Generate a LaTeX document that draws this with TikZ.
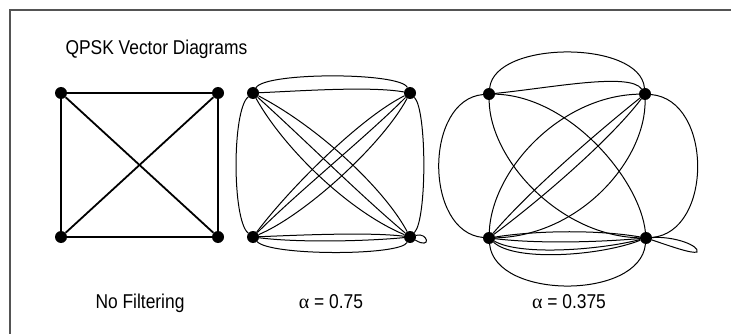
\documentclass[tikz,border=0pt]{standalone}
\usepackage{fontspec}
\setmainfont{Liberation Sans}[FakeStretch=0.87]
\newfontfamily\greekfont{Liberation Serif}
\usetikzlibrary{positioning}

\begin{document}
\begin{tikzpicture}[x=1pt, y=-1pt, every node/.style={font=\fontsize{20}{24}\selectfont}, dot/.style={circle, fill, inner sep=0pt, minimum size=12pt}, trace/.style={line width=1pt}, edge/.style={line width=1.8pt}, frame/.style={draw=black!67, line width=2pt}]
\useasboundingbox (0,0) rectangle (731,334);
\draw[frame] (9.5,335) -- (9.5,10.5) -- (732,10.5);
\node[anchor=base west] (title) at (62,55) {QPSK Vector Diagrams};
% no filtering
\node[dot] (atl) at (61,93) {};
\node[dot] (atr) at (218,93) {};
\node[dot] (abl) at (61,237) {};
\node[dot] (abr) at (218,237) {};
\draw[edge] (atl)--(atr)--(abr)--(abl)--(atl);
\draw[edge] (atl)--(abr);
\draw[edge] (atr)--(abl);
% alpha = 0.75
\node[dot] (btl) at (253,93) {};
\node[dot] (btr) at (410,93) {};
\node[dot] (bbl) at (253,237) {};
\node[dot] (bbr) at (410,237) {};
\draw[trace] (btl) .. controls (265,72) and (400,72) .. (btr);
\draw[trace] (btl) .. controls (300,91) and (370,86) .. (btr);
\draw[trace] (btl) .. controls (232,110) and (232,220) .. (bbl);
\draw[trace] (btr) .. controls (427,110) and (427,220) .. (bbr);
\draw[trace] (bbl) .. controls (270,256) and (400,256) .. (bbr);
\draw[trace] (bbl) .. controls (300,235) and (370,232) .. (bbr);
\draw[trace] (bbl) .. controls (300,243) and (370,241) .. (bbr);
\draw[trace] (bbr) .. controls (428,232) and (432,250) .. (bbr);
\draw[trace] (btl) .. controls (320,128) and (385,190) .. (bbr);
\draw[trace] (btl) .. controls (285,150) and (350,212) .. (bbr);
\draw[trace] (btl) .. controls (305,140) and (360,195) .. (bbr);
\draw[trace] (btr) .. controls (360,118) and (290,188) .. (bbl);
\draw[trace] (btr) .. controls (382,145) and (305,215) .. (bbl);
\draw[trace] (btr) .. controls (365,138) and (300,190) .. (bbl);
% alpha = 0.375
\node[dot] (ctl) at (489,94) {};
\node[dot] (ctr) at (645,94) {};
\node[dot] (cbl) at (489,238) {};
\node[dot] (cbr) at (646,238) {};
\draw[trace] (ctl) .. controls (495,40) and (640,40) .. (ctr);
\draw[trace] (ctl) .. controls (550,88) and (630,72) .. (ctr);
\draw[trace] (ctl) .. controls (424,100) and (424,232) .. (cbl);
\draw[trace] (ctr) .. controls (713,100) and (713,232) .. (cbr);
\draw[trace] (cbl) .. controls (495,300) and (640,300) .. (cbr);
\draw[trace] (cbl) .. controls (540,230) and (600,230) .. (cbr);
\draw[trace] (cbl) .. controls (540,244) and (600,242) .. (cbr);
\draw[trace] (cbl) .. controls (520,256) and (600,250) .. (cbr);
\draw[trace] (cbl) .. controls (515,262) and (600,256) .. (cbr);
\draw[trace] (cbr) .. controls (675,236) and (700,246) .. (697,252) .. controls (692,254) and (670,246) .. (cbr);
\draw[trace] (ctl) .. controls (570,96) and (640,180) .. (cbr);
\draw[trace] (ctl) .. controls (490,160) and (560,236) .. (cbr);
\draw[trace] (ctr) .. controls (560,96) and (492,170) .. (cbl);
\draw[trace] (ctr) .. controls (646,160) and (580,236) .. (cbl);
\draw[trace] (ctr) .. controls (600,130) and (530,190) .. (cbl);
\draw[trace] (ctr) .. controls (610,140) and (540,200) .. (cbl);
% labels
\node[anchor=base] (nofilt) at (140,308) {No Filtering};
\node[anchor=base] (alphahi) at (331,308) {{\greekfont α} = 0.75};
\node[anchor=base] (alphalo) at (569,308) {{\greekfont α} = 0.375};
\end{tikzpicture}
\end{document}
